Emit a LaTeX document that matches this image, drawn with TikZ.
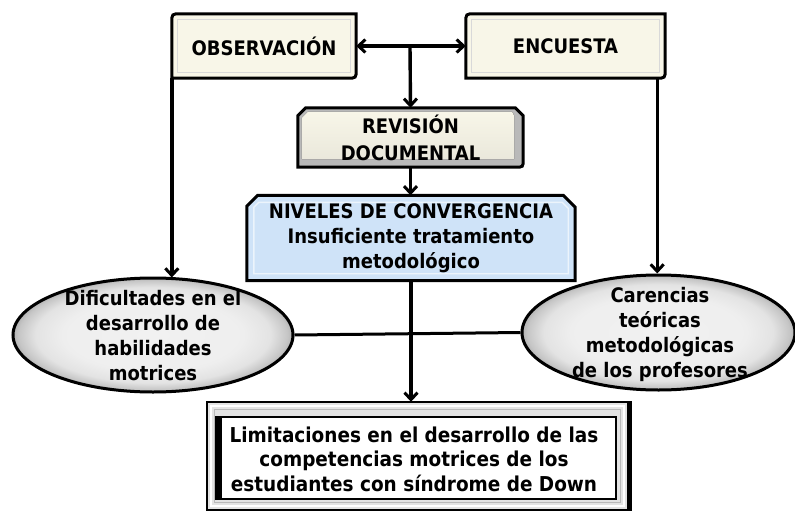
\documentclass[tikz,border=0pt]{standalone}
\usepackage{fontspec}
\setmainfont{DejaVu Sans Condensed}
\usetikzlibrary{arrows.meta,calc,backgrounds,shapes.geometric}
\definecolor{cream}{HTML}{F8F6E8}
\definecolor{bluef}{HTML}{CFE3F8}
\pgfdeclareradialshading{ellsh}{\pgfpoint{0bp}{0bp}}{color(0bp)=(gray!11); color(16bp)=(gray!13); color(21bp)=(gray!22); color(24bp)=(gray!45); color(25bp)=(gray!60); color(50bp)=(gray!60)}
\tikzset{
  txt/.style={inner sep=0pt, align=center, font=\bfseries\fontsize{20}{25}\selectfont, text=black},
  tip/.tip={Straight Barb[length=7pt,width=13pt,line width=3pt]},
  conn/.style={line width=3.4pt, draw=black},
  arr/.style={conn, -tip},
  darr/.style={conn, tip-tip},
  outl/.style={line width=3pt, draw=black},
  ell/.style={ellipse, inner sep=0pt, line width=3pt, draw=black, shading=ellsh}
}
\begin{document}
\begin{tikzpicture}[x=1pt,y=-1pt]
\useasboundingbox (0,0) rectangle (795,511);
% nodes
\node[txt, minimum width=184, minimum height=64] (obs) at (264,46) {OBSERVACIÓN};
\node[txt, minimum width=199, minimum height=64] (enc) at (565.5,46) {ENCUESTA};
\node[txt, minimum width=225, minimum height=59, font=\bfseries\fontsize{20}{27}\selectfont] (rev) at (410.5,137.5) {REVISIÓN\\DOCUMENTAL};
\node[txt, minimum width=328, minimum height=85] (niv) at (411,238) {NIVELES DE CONVERGENCIA\\Insuficiente tratamiento\\metodológico};
\node[ell, minimum width=280, minimum height=114] (dif) at (153,335) {};
\node[txt] (dift) at (153,336) {Dificultades en el\\desarrollo de\\habilidades\\motrices};
\node[ell, minimum width=273, minimum height=115] (car) at (658.5,332.5) {};
\node[txt] (cart) at (660,334) {Carencias\\teóricas\\metodológicas\\de los profesores};
\node[inner sep=0pt, minimum width=424, minimum height=108] (lim) at (419,456) {};
\node[txt, font=\bfseries\fontsize{20.5}{24.5}\selectfont] (limt) at (414,459) {Limitaciones en el desarrollo de las\\competencias motrices de los\\estudiantes con síndrome de Down};
% shapes
\begin{pgfonlayer}{background}
 \foreach \n in {obs,enc}{
  \filldraw[outl, fill=cream] ($(\n.north west)+(0,9)$) .. controls (\n.north west) .. ($(\n.north west)+(9,0)$)
     -- (\n.north east) -- ($(\n.south east)+(0,-9)$) .. controls (\n.south east) .. ($(\n.south east)+(-9,0)$)
     -- (\n.south west) -- cycle;
  \draw[gray!30, line width=1pt] ($(\n.north west)+(6,6)$) rectangle ($(\n.south east)+(-6,-6)$);
 }
 \filldraw[outl, fill=gray!55] ($(rev.north west)+(0,8)$) -- ($(rev.north west)+(8,0)$)
     -- ($(rev.north east)+(-8,0)$) -- ($(rev.north east)+(0,8)$) -- ($(rev.south east)+(0,-8)$) .. controls (rev.south east) .. ($(rev.south east)+(-8,0)$)
     -- (rev.south west) -- cycle;
 \fill[top color=cream, bottom color=cream!88!gray] ($(rev.north west)+(4,10)$) -- ($(rev.north west)+(10,4)$)
     -- ($(rev.north east)+(-11,4)$) -- ($(rev.north east)+(-9,8)$) -- ($(rev.south east)+(-9,-8)$) -- ($(rev.south west)+(4,-8)$) -- cycle;
 \filldraw[outl, fill=bluef] ($(niv.north west)+(0,11)$) -- ($(niv.north west)+(11,0)$)
     -- ($(niv.north east)+(-12,0)$) -- ($(niv.north east)+(0,12)$)
     -- (niv.south east) -- (niv.south west) -- cycle;
 \draw[white!60!bluef, line width=1.4pt] ($(niv.north west)+(7,12)$) -- ($(niv.north west)+(12,7)$)
     -- ($(niv.north east)+(-13,7)$) -- ($(niv.north east)+(-7,13)$)
     -- ($(niv.south east)+(-7,-7)$) -- ($(niv.south west)+(7,-7)$) -- cycle;
 % bottom frame
 \filldraw[line width=2.2pt, draw=black, fill=gray!22] (lim.north west) rectangle (lim.south east);
 \draw[white, line width=2pt] ($(lim.north west)+(4,4)$) rectangle ($(lim.south east)+(-7,-4)$);
 \draw[gray!55, line width=1.2pt] ($(lim.north west)+(7.5,8)$) rectangle ($(lim.south east)+(-11,-7.5)$);
 \filldraw[line width=2.2pt, draw=black, fill=white] ($(lim.north west)+(9,15)$) rectangle ($(lim.south east)+(-15,-11)$);
 \fill[black] ($(lim.north west)+(9,15)$) rectangle ($(lim.south west)+(15,-11)$);
 \fill[black] ($(lim.north east)+(-4,0)$) rectangle (lim.south east);
\end{pgfonlayer}
% connectors
\coordinate (jx) at (410,46);
\draw[darr] (obs.east) -- (enc.west);
\draw[arr] (jx) -- (rev.north);
\draw[arr] (rev.south) -- (rev.south |- niv.north);
\draw[arr] ($(obs.south west)+(0,0)$) -- ($(obs.south west |- dif.north)+(0,1)$);
\draw[arr] ($(enc.south east)+(-8,0)$) -- ($(enc.south east |- car.north)+(-8,0)$);
\draw[conn, line width=3pt] (dif.east) -- (car.west);
\draw[arr] (niv.south) -- (niv.south |- lim.north);
\end{tikzpicture}
\end{document}
